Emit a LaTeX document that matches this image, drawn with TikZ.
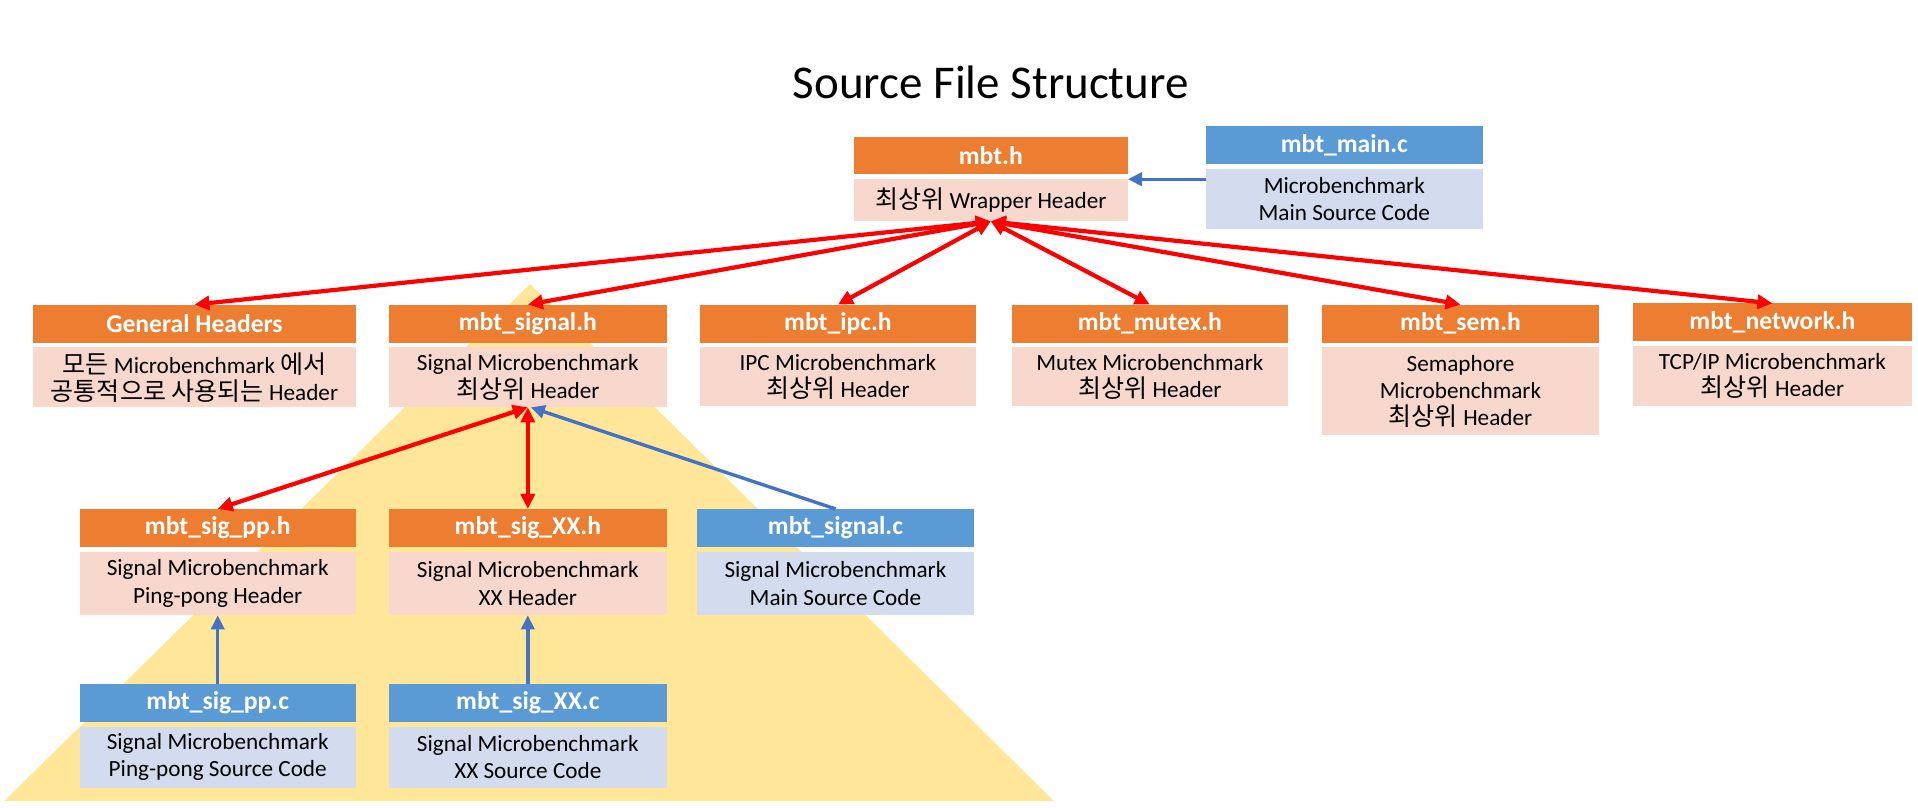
\documentclass[tikz,border=0pt]{standalone}
\usepackage{fontspec}
\setmainfont{Carlito}
\newfontfamily\kr[Scale=1.08]{Noto Sans CJK KR}
\usetikzlibrary{arrows.meta}
\definecolor{hdrO}{HTML}{ED7D31}
\definecolor{bodyO}{HTML}{F8D7CD}
\definecolor{hdrB}{HTML}{5B9BD5}
\definecolor{bodyB}{HTML}{D3DCEE}
\definecolor{triY}{HTML}{FFE699}
\definecolor{redA}{HTML}{FF0000}
\definecolor{blueA}{HTML}{4472C4}
\begin{document}
\begin{tikzpicture}[x=0.6116pt,y=-0.6116pt,
  box/.style={inner sep=0pt, outer sep=0pt, align=center},
  sz/.style 2 args={minimum width=#1*0.6116pt, minimum height=#2*0.6116pt},
  hfont/.style={font=\fontsize{12.8}{15}\selectfont\bfseries},
  bfont/.style={font=\fontsize{11.6}{13.6}\selectfont},
  ohdr/.style={box, hfont, fill=hdrO, text=white},
  bhdr/.style={box, hfont, fill=hdrB, text=white},
  obody/.style={box, bfont, fill=bodyO, text=black},
  bbody/.style={box, bfont, fill=bodyB, text=black},
  redarr/.style={draw=redA, line width=2.1pt, arrows={Triangle[length=7.5pt,width=7pt]-Triangle[length=7.5pt,width=7pt]}},
  bluearr/.style={draw=blueA, line width=1.7pt, arrows={-Triangle[length=7pt,width=6.5pt]}}
]
\useasboundingbox (0,0) rectangle (1568,660);
% background triangle
\fill[triY] (433.3,232.2) -- (3.3,655) -- (861.7,655) -- cycle;

% title
\node[font=\fontsize{23.5}{28}\selectfont] (title) at (810,67) {Source File Structure};

% top
\node[ohdr, sz={224}{30}] (mbth) at (810,127) {mbt.h};
\node[obody, sz={224}{35}] (mbthb) at (810,163.5) {{\kr 최상위} Wrapper Header};
\node[bhdr, sz={226}{31}] (main) at (1099,118.5) {mbt\_main.c};
\node[bbody, sz={226}{49}] (mainb) at (1099,162.5) {Microbenchmark\\Main Source Code};

% row 2
\node[ohdr, sz={264}{31}] (gen) at (159,264.5) {General Headers};
\node[obody, sz={264}{49}] (genb) at (159,308.5) {{\kr 모든} Microbenchmark {\kr 에서}\\{\kr 공통적으로 사용되는} Header};
\node[ohdr, sz={227}{31}] (sig) at (431.5,264.5) {mbt\_signal.h};
\node[obody, sz={227}{49}] (sigb) at (431.5,308.5) {Signal Microbenchmark\\{\kr 최상위} Header};
\node[ohdr, sz={226}{31}] (ipc) at (685,264.5) {mbt\_ipc.h};
\node[obody, sz={226}{48}] (ipcb) at (685,308) {IPC Microbenchmark\\{\kr 최상위} Header};
\node[ohdr, sz={226}{31}] (mutex) at (940,264.5) {mbt\_mutex.h};
\node[obody, sz={226}{48}] (mutexb) at (940,308) {Mutex Microbenchmark\\{\kr 최상위} Header};
\node[ohdr, sz={226}{31}] (sem) at (1194,264.5) {mbt\_sem.h};
\node[obody, sz={226}{72}] (semb) at (1194,320) {Semaphore\\Microbenchmark\\{\kr 최상위} Header};
\node[ohdr, sz={228}{31}] (net) at (1449,263.5) {mbt\_network.h};
\node[obody, sz={228}{49}] (netb) at (1449,307.5) {TCP/IP Microbenchmark\\{\kr 최상위} Header};

% row 3
\node[ohdr, sz={226}{31}] (pph) at (178,431.5) {mbt\_sig\_pp.h};
\node[obody, sz={226}{52}] (pphb) at (178,477) {Signal Microbenchmark\\Ping-pong Header};
\node[ohdr, sz={227}{31}] (xxh) at (431.5,431.5) {mbt\_sig\_XX.h};
\node[obody, sz={227}{52}] (xxhb) at (431.5,477) {Signal Microbenchmark\\XX Header};
\node[bhdr, sz={226}{31}] (sigc) at (683,431.5) {mbt\_signal.c};
\node[bbody, sz={226}{52}] (sigcb) at (683,477) {Signal Microbenchmark\\Main Source Code};

% row 4
\node[bhdr, sz={226}{31}] (ppc) at (178,574.5) {mbt\_sig\_pp.c};
\node[bbody, sz={226}{50}] (ppcb) at (178,619) {Signal Microbenchmark\\Ping-pong Source Code};
\node[bhdr, sz={227}{31}] (xxc) at (431.5,574.5) {mbt\_sig\_XX.c};
\node[bbody, sz={227}{50}] (xxcb) at (431.5,619) {Signal Microbenchmark\\XX Source Code};

% connectors
\coordinate (ay) at (0,146.5);
\draw[bluearr] (mainb.west |- ay) -- (mbthb.east |- ay);

\draw[redarr] (mbthb.south) -- (gen.north);
\draw[redarr] (mbthb.south) -- (sig.north);
\draw[redarr] (mbthb.south) -- (ipc.north);
\draw[redarr] (mbthb.south) -- (mutex.north);
\draw[redarr] (mbthb.south) -- (sem.north);
\draw[redarr] (mbthb.south) -- (net.north);

\draw[redarr] (sigb.south) -- (pph.north);
\draw[redarr] (sigb.south) -- (xxh.north);
\draw[bluearr] (sigc.north) -- ([xshift=1.5pt]sigb.south);

\draw[bluearr] (ppc.north) -- (pphb.south);
\draw[bluearr] (xxc.north) -- (xxhb.south);
\end{tikzpicture}
\end{document}
